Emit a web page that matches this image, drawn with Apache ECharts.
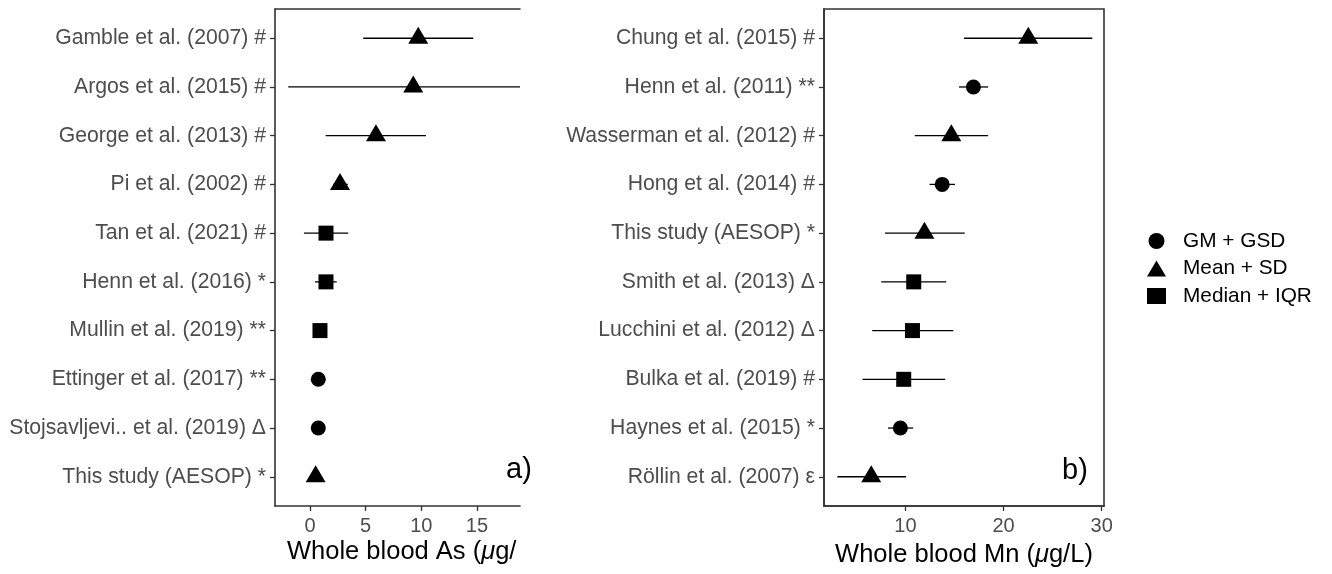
<!DOCTYPE html>
<html>
<head>
<meta charset="utf-8">
<script src="https://cdn.jsdelivr.net/npm/echarts@6/dist/echarts.min.js"></script>
<style>
  html, body { margin: 0; padding: 0; background: #ffffff; }
  #chart { width: 1332px; height: 574px; }
</style>
</head>
<body>
<div id="chart"></div>
<script>
// Summary statistic kinds and their marker shapes
const statNames = ['GM + GSD', 'Mean + SD', 'Median + IQR'];
const statSymbols = ['circle', 'triangle', 'rect'];

// Panel a) whole blood arsenic (µg/L)
const asStudies = [
  'Gamble et al. (2007) #', 'Argos et al. (2015) #', 'George et al. (2013) #',
  'Pi et al. (2002) #', 'Tan et al. (2021) #', 'Henn et al. (2016) *',
  'Mullin et al. (2019) **', 'Ettinger et al. (2017) **',
  'Stojsavljevi.. et al. (2019) Δ', 'This study (AESOP) *'
];
const asStat = ['Mean + SD', 'Mean + SD', 'Mean + SD', 'Mean + SD', 'Median + IQR',
  'Median + IQR', 'Median + IQR', 'GM + GSD', 'GM + GSD', 'Mean + SD'];
const asValue = [9.73, 9.28, 5.93, 2.70, 1.44, 1.44, 0.90, 0.75, 0.75, 0.51];
const asLow   = [4.79, -1.95, 1.41, 2.10, -0.54, 0.45, 0.80, 0.65, 0.65, 0.35];
const asHigh  = [14.67, 20.5, 10.42, 3.40, 3.44, 2.40, 1.00, 0.85, 0.85, 0.70];
const asTicks = [0, 5, 10, 15];

// Panel b) whole blood manganese (µg/L)
const mnStudies = [
  'Chung et al. (2015) #', 'Henn et al. (2011) **', 'Wasserman et al. (2012) #',
  'Hong et al. (2014) #', 'This study (AESOP) *', 'Smith et al. (2013) Δ',
  'Lucchini et al. (2012) Δ', 'Bulka et al. (2019) #', 'Haynes et al. (2015) *',
  'Röllin et al. (2007) ε'
];
const mnStat = ['Mean + SD', 'GM + GSD', 'Mean + SD', 'GM + GSD', 'Mean + SD',
  'Median + IQR', 'Median + IQR', 'Median + IQR', 'GM + GSD', 'Mean + SD'];
const mnValue = [22.52, 16.93, 14.68, 13.75, 11.94, 10.85, 10.72, 9.83, 9.49, 6.52];
const mnLow   = [15.97, 15.46, 10.96, 12.46, 7.92, 7.54, 6.62, 5.63, 8.23, 3.07];
const mnHigh  = [29.04, 18.43, 18.43, 15.05, 16.04, 14.16, 14.88, 14.06, 10.79, 10.07];
const mnTicks = [10, 20, 30];

const FONT = '"Liberation Sans", Arial, Helvetica, sans-serif';
const GREY = '#4d4d4d';
const FRAME = '#333333';
const rowIdx = asStudies.map((_, i) => i);

function markerSize(sym) {
  if (sym === 'triangle') return [20, 17];
  if (sym === 'rect') return 15;
  return 15;
}

function panelSeries(axisIdx, stats, values, lows, highs) {
  const out = [];
  // horizontal spread bars
  out.push({
    type: 'custom',
    xAxisIndex: axisIdx,
    yAxisIndex: axisIdx,
    clip: true,
    silent: true,
    z: 2,
    data: values.map((v, i) => [lows[i], highs[i], i]),
    renderItem: function (params, api) {
      const a = api.coord([api.value(0), api.value(2)]);
      const b = api.coord([api.value(1), api.value(2)]);
      return {
        type: 'line',
        shape: { x1: a[0], y1: a[1], x2: b[0], y2: b[1] },
        style: { stroke: '#000000', lineWidth: 1.3 }
      };
    }
  });
  statNames.forEach((name, k) => {
    const sym = statSymbols[k];
    out.push({
      type: 'scatter',
      name: name,
      xAxisIndex: axisIdx,
      yAxisIndex: axisIdx,
      symbol: sym,
      symbolSize: markerSize(sym),
      symbolOffset: sym === 'triangle' ? [0, -3] : [0, 0],
      itemStyle: { color: '#000000', opacity: 1 },
      silent: true,
      z: 3,
      data: values.map((v, i) => stats[i] === name ? [v, i] : null).filter(d => d)
    });
  });
  return out;
}

function catAxis(gridIndex, labels) {
  return {
    type: 'value',
    gridIndex: gridIndex,
    position: 'left',
    inverse: true,
    min: -0.6,
    max: 9.6,
    axisLine: { show: true, onZero: false, lineStyle: { color: FRAME, width: 1.6 } },
    axisTick: { show: true, customValues: rowIdx, length: 5, lineStyle: { color: FRAME, width: 1.3 } },
    axisLabel: {
      show: true,
      customValues: rowIdx,
      margin: 9,
      color: GREY,
      fontSize: 21.2,
      fontFamily: FONT,
      formatter: v => labels[Math.round(v)]
    },
    splitLine: { show: false }
  };
}

function valueAxis(gridIndex, min, max, ticks, name) {
  return {
    type: 'value',
    gridIndex: gridIndex,
    position: 'bottom',
    min: min,
    max: max,
    axisLine: { show: true, onZero: false, lineStyle: { color: FRAME, width: 1.6 } },
    axisTick: { show: true, customValues: ticks, length: 5, lineStyle: { color: FRAME, width: 1.3 } },
    axisLabel: {
      show: true,
      customValues: ticks,
      margin: 10,
      color: GREY,
      fontSize: 20,
      fontFamily: FONT
    },
    splitLine: { show: false },
    name: name || '',
    nameLocation: 'middle',
    nameGap: 36,
    nameTextStyle: {
      color: '#000000',
      fontSize: 25.5,
      fontFamily: FONT,
      rich: {
        t: { fontSize: 25.5, fontFamily: FONT, color: '#000000' },
        mu: { fontSize: 25.5, fontFamily: FONT, fontStyle: 'italic', color: '#000000' }
      }
    }
  };
}

const chart = echarts.init(document.getElementById('chart'), null, { renderer: 'canvas' });

const option = {
  backgroundColor: '#ffffff',
  animation: false,
  grid: [
    { left: 275, top: 9, width: 245, height: 497, show: false },
    { left: 824, top: 9, width: 280, height: 497, show: true, borderColor: FRAME, borderWidth: 1.6, backgroundColor: 'transparent' }
  ],
  xAxis: [
    valueAxis(0, -3.14, 18.87, asTicks, ''),
    valueAxis(1, 1.71, 30.23, mnTicks, '{t|Whole blood Mn (}{mu|μ}{t|g/L)}'),
    {
      // top edge of panel a)
      type: 'value', gridIndex: 0, position: 'top', min: -3.14, max: 18.87,
      axisLine: { show: true, onZero: false, lineStyle: { color: FRAME, width: 1.6 } },
      axisTick: { show: false }, axisLabel: { show: false }, splitLine: { show: false }
    }
  ],
  yAxis: [
    catAxis(0, asStudies),
    catAxis(1, mnStudies)
  ],
  legend: {
    orient: 'vertical',
    left: 1142,
    top: 224,
    itemWidth: 19,
    itemHeight: 16,
    itemGap: 3.5,
    selectedMode: false,
    data: statNames.map((n, k) => ({ name: n, icon: statSymbols[k] })),
    itemStyle: { color: '#000000' },
    textStyle: {
      color: '#000000',
      fontSize: 20.8,
      fontFamily: FONT,
      lineHeight: 24,
      padding: [0, 0, 0, 12]
    }
  },
  graphic: [
    {
      type: 'text',
      left: 287,
      top: 539,
      style: {
        text: '{t|Whole blood As (}{mu|μ}{t|g/}',
        rich: {
          t: { fontSize: 25.5, fontFamily: FONT, fill: '#000000' },
          mu: { fontSize: 25.5, fontFamily: FONT, fontStyle: 'italic', fill: '#000000' }
        }
      }
    },
    {
      type: 'text', left: 506, top: 455,
      style: { text: 'a)', fontSize: 29, fontFamily: FONT, fill: '#000000' }
    },
    {
      type: 'text', left: 1062, top: 456,
      style: { text: 'b)', fontSize: 29, fontFamily: FONT, fill: '#000000' }
    }
  ],
  series: [].concat(
    panelSeries(0, asStat, asValue, asLow, asHigh),
    panelSeries(1, mnStat, mnValue, mnLow, mnHigh)
  )
};

chart.setOption(option);
</script>
</body>
</html>
